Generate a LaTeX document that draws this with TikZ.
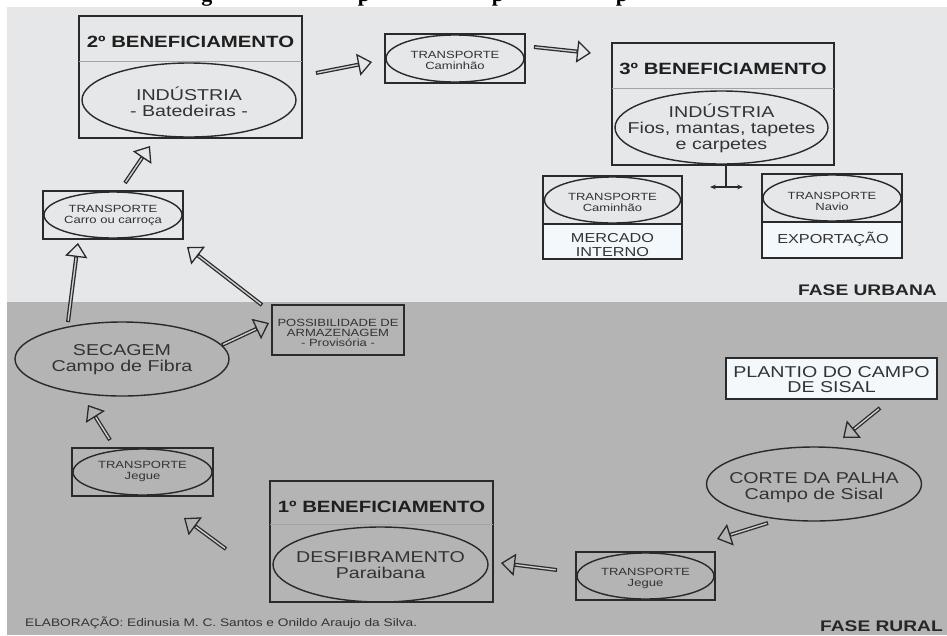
\documentclass[tikz,border=0pt]{standalone}
\usepackage{fontspec}
\setmainfont{Liberation Sans}[FakeStretch=1.25]
\newfontfamily\serifttl{Liberation Serif}
\usetikzlibrary{arrows.meta,shapes.geometric,calc}
\definecolor{bgL}{HTML}{E6E7E8}
\definecolor{bgD}{HTML}{B4B4B4}
\definecolor{lc}{HTML}{2A2A2A}
\definecolor{tc}{HTML}{333333}
\definecolor{boxw}{HTML}{F3F8FC}
\definecolor{divc}{HTML}{A3A3A3}
\definecolor{shaftin}{HTML}{CFCFCF}
\begin{document}
\begin{tikzpicture}[x=0.03cm,y=-0.03cm,
 sz/.style 2 args={minimum width=#1*0.03cm, minimum height=#2*0.03cm},
 box/.style={draw=lc, line width=1.3pt, rectangle, inner sep=0pt, outer sep=0pt},
 ell/.style={draw=lc, line width=1.2pt, ellipse, inner sep=0pt, outer sep=0pt},
 et/.style={inner sep=0pt, align=center, text=tc},
 ttl/.style={font=\fontsize{13.9}{16}\selectfont\bfseries, text=black!88, inner sep=0pt},
 big/.style={font=\fontsize{13.4}{13.7}\selectfont},
 med/.style={font=\fontsize{11.1}{12}\selectfont},
 sml/.style={font=\fontsize{8.9}{9.4}\selectfont},
 fase/.style={font=\fontsize{13.1}{14}\selectfont\bfseries, text=black!85, anchor=east, inner sep=0pt},
 divline/.style={draw=divc, line width=0.6pt},
 flow/.style={draw=lc, line width=3.4pt, -{Triangle[length=12pt,width=19pt,line width=1.1pt,fill=#1]}, postaction={draw=shaftin, line width=1.2pt, -, shorten >=12.5pt, shorten <=1.1pt}}
]
\useasboundingbox (0,0) rectangle (947,635);
\fill[white] (0,0) rectangle (947,635);
\fill[bgL] (7,7) rectangle (947,302);
\fill[bgD] (7,302) rectangle (947,635);
% cut-off title descenders
\begin{scope}
\clip (0,0) rectangle (947,7);
\foreach \xx/\gl [count=\i] in {207/g,364/p,498/p,622/p}
  \node[anchor=base, inner sep=0pt, font=\fontsize{18.8}{20}\serifttl\bfseries] (tt\i) at (\xx,1) {\gl};
\end{scope}

% 2o beneficiamento
\node[box, sz={223}{122}] (b2) at (190.5,77) {};
\draw[divline] ($(b2.north west)+(0,45)$) -- ($(b2.north east)+(0,45)$);
\node[ttl] (t2) at (190.5,42) {2º BENEFICIAMENTO};
\node[ell, sz={214}{74}] (i2) at (189,100) {};
\node[et, big] (i2t) at (189,102) {INDÚSTRIA\\- Batedeiras -};

% transporte caminhao (top)
\node[box, sz={140}{49}] (tr1) at (455,58.5) {};
\node[ell, sz={138}{47}] (tr1e) at (455,58.5) {};
\node[et, sml] (tr1t) at (455,60.5) {TRANSPORTE\\Caminhão};

% 3o beneficiamento
\node[box, sz={222}{122}] (b3) at (723,104) {};
\draw[divline] ($(b3.north west)+(0,45)$) -- ($(b3.north east)+(0,45)$);
\node[ttl] (t3) at (723,69) {3º BENEFICIAMENTO};
\node[ell, sz={213}{73}] (i3) at (721.5,127.5) {};
\node[et, big] (i3t) at (721.5,128.5) {INDÚSTRIA\\Fios, mantas, tapetes\\e carpetes};

% split
\coordinate (sp) at (726,187);
\coordinate (spl) at (710,187);
\coordinate (spr) at (743,187);
\draw[lc, line width=1.1pt] (b3.south -| sp) -- (sp);
\draw[lc, line width=1.1pt, {Stealth[length=5pt,width=4pt]}-{Stealth[length=5pt,width=4pt]}] (spl) -- (spr);

% mercado interno
\fill[boxw] (543,224) rectangle (682,259);
\node[box, sz={139}{83}] (mi) at (612.5,217.5) {};
\draw[lc, line width=1.3pt] ($(mi.north west)+(0,48)$) -- ($(mi.north east)+(0,48)$);
\node[ell, sz={136}{46}] (mie) at (612.5,200) {};
\node[et, sml] (miet) at (612.5,202) {TRANSPORTE\\Caminhão};
\node[et, med] (mit) at (612.5,245) {MERCADO\\INTERNO};

% exportacao
\fill[boxw] (762,222) rectangle (902,258);
\node[box, sz={140}{84}] (ex) at (832,216) {};
\draw[lc, line width=1.3pt] ($(ex.north west)+(0,48)$) -- ($(ex.north east)+(0,48)$);
\node[ell, sz={138}{46}] (exe) at (832,198) {};
\node[et, sml] (exet) at (832,201) {TRANSPORTE\\Navio};
\node[et, med] (ext) at (833,239) {EXPORTAÇÃO};

\node[fase] (fu) at (937,290) {FASE URBANA};

% carro ou carroca
\node[box, sz={140}{48}] (ca) at (113,215) {};
\node[ell, sz={138}{46}] (cae) at (113,215) {};
\node[et, sml] (cat) at (113,215.5) {TRANSPORTE\\Carro ou carroça};

% secagem
\node[ell, sz={214}{74}] (sec) at (122,359) {};
\node[et, big] (sect) at (122,360) {SECAGEM\\Campo de Fibra};

% possibilidade
\node[box, sz={132}{50}] (pos) at (338,330) {};
\node[et, font=\fontsize{8.9}{8.6}\selectfont] (post) at (338,333) {POSSIBILIDADE DE\\ARMAZENAGEM\\- Provisória -};

% jegue left
\node[box, sz={141}{48}] (jl) at (142.5,472) {};
\node[ell, sz={139}{46}] (jle) at (142.5,472) {};
\node[et, sml] (jlt) at (142.5,471.5) {TRANSPORTE\\Jegue};

% 1o beneficiamento
\node[box, sz={223}{121}] (b1) at (381.5,541.5) {};
\draw[divline] ($(b1.north west)+(0,43)$) -- ($(b1.north east)+(0,43)$);
\node[ttl] (t1) at (381.5,507) {1º BENEFICIAMENTO};
\node[ell, sz={215}{75}] (d1) at (380.5,564.5) {};
\node[et, big] (d1t) at (380.5,565) {DESFIBRAMENTO\\Paraibana};

% jegue bottom
\node[box, sz={139}{48}] (jb) at (645.5,576) {};
\node[ell, sz={137}{46}] (jbe) at (645.5,576) {};
\node[et, sml] (jbt) at (645.5,578) {TRANSPORTE\\Jegue};

% corte da palha
\node[ell, sz={215}{74}] (co) at (814,484) {};
\node[et, big] (cot) at (814,487.5) {CORTE DA PALHA\\Campo de Sisal};

% plantio
\node[box, sz={211}{41}, fill=boxw] (pl) at (831.5,378.5) {};
\node[et, font=\fontsize{13.4}{12.8}\selectfont] (plt) at (831.5,379.5) {PLANTIO DO CAMPO\\DE SISAL};

\node[anchor=west, font=\fontsize{9.35}{10}\selectfont, text=tc, inner sep=0pt] (el) at (25,623) {ELABORAÇÃO: Edinusia M. C. Santos e Onildo Araujo da Silva.};
\node[fase] (fr) at (943,626) {FASE RURAL};

% arrows
\coordinate (a1s) at (125,183);  \coordinate (a1e) at (150,146);
\coordinate (a2s) at (316,73);   \coordinate (a2e) at (372,62);
\coordinate (a3s) at (534,47);   \coordinate (a3e) at (591,53);
\coordinate (a4s) at (68,322);   \coordinate (a4e) at (78,243);
\coordinate (a5s) at (262,305);  \coordinate (a5e) at (187,247);
\coordinate (a6s) at (222,345);  \coordinate (a6e) at (269,323);
\coordinate (a7s) at (110,440);  \coordinate (a7e) at (88,405);
\coordinate (a8s) at (226,549);  \coordinate (a8e) at (184,518);
\coordinate (a9s) at (557,570);  \coordinate (a9e) at (501,563);
\coordinate (a10s) at (768,523); \coordinate (a10e) at (717,539);
\coordinate (a11s) at (880,408); \coordinate (a11e) at (843,438);
\draw[flow=bgL] (a1s) -- (a1e);
\draw[flow=bgL] (a2s) -- (a2e);
\draw[flow=bgL] (a3s) -- (a3e);
\draw[flow=bgL] (a4s) -- (a4e);
\draw[flow=bgL] (a5s) -- (a5e);
\draw[flow=bgD] (a6s) -- (a6e);
\draw[flow=bgD] (a7s) -- (a7e);
\draw[flow=bgD] (a8s) -- (a8e);
\draw[flow=bgD] (a9s) -- (a9e);
\draw[flow=bgD] (a10s) -- (a10e);
\draw[flow=bgD] (a11s) -- (a11e);
\end{tikzpicture}
\end{document}
